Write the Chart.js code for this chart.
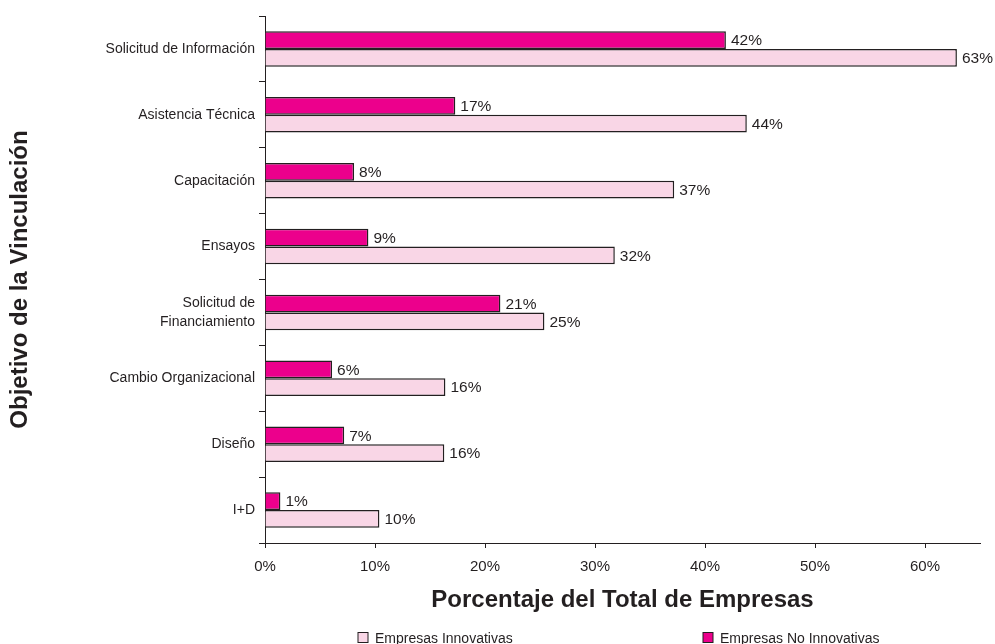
<!DOCTYPE html>
<html>
<head>
<meta charset="utf-8">
<title>Objetivo de la Vinculación</title>
<script src="https://cdn.jsdelivr.net/npm/chart.js@4.4.1/dist/chart.umd.min.js"></script>
<style>
  html, body { margin: 0; padding: 0; background: #fff; }
  #wrap { position: relative; width: 995px; height: 644px; }
</style>
</head>
<body>
<div id="wrap"><canvas id="chart" width="995" height="644"></canvas></div>
<script>
// datos del gráfico
const categorias = ['Solicitud de Información', 'Asistencia Técnica', 'Capacitación', 'Ensayos',
    ['Solicitud de', 'Financiamiento'], 'Cambio Organizacional', 'Diseño', 'I+D'];
const noInnovativas = [41.9, 17.3, 8.1, 9.4, 21.4, 6.1, 7.2, 1.4];
const innovativas = [62.9, 43.8, 37.2, 31.8, 25.4, 16.4, 16.3, 10.4];
const ticksX = [0, 10, 20, 30, 40, 50, 60];

const INK = '#231f20';
const MAGENTA = '#ec008c';
const ROSA = '#f9d6e6';
const FONT = '"Liberation Sans", Arial, sans-serif';

Chart.defaults.font.family = FONT;
Chart.defaults.color = INK;

// etiquetas de valor al final de cada barra
const valueLabels = {
    id: 'valueLabels',
    afterDatasetsDraw(chart) {
        const ctx = chart.ctx;
        ctx.save();
        ctx.font = '15.5px ' + FONT;
        ctx.fillStyle = INK;
        ctx.textAlign = 'left';
        ctx.textBaseline = 'middle';
        chart.data.datasets.forEach((ds, i) => {
            chart.getDatasetMeta(i).data.forEach((bar, j) => {
                ctx.fillText(Math.round(ds.data[j]) + '%', bar.x + 5, bar.y + 1);
            });
        });
        ctx.restore();
    }
};

// leyenda abajo, con el orden y la separación del original
const legendaAbajo = {
    id: 'legendaAbajo',
    afterDraw(chart) {
        const ctx = chart.ctx;
        const items = [
            { ds: chart.data.datasets[1], x: 358 },
            { ds: chart.data.datasets[0], x: 703 }
        ];
        ctx.save();
        ctx.font = '14px ' + FONT;
        ctx.textBaseline = 'alphabetic';
        ctx.textAlign = 'left';
        items.forEach(it => {
            ctx.fillStyle = it.ds.backgroundColor;
            ctx.fillRect(it.x, 632.5, 10, 10);
            ctx.strokeStyle = INK;
            ctx.lineWidth = 1;
            ctx.strokeRect(it.x, 632.5, 10, 10);
            ctx.fillStyle = INK;
            ctx.fillText(it.ds.label, it.x + 17, 643);
        });
        ctx.restore();
    }
};

new Chart(document.getElementById('chart'), {
    type: 'bar',
    data: {
        labels: categorias,
        datasets: [
            { label: 'Empresas No Innovativas', data: noInnovativas, backgroundColor: MAGENTA, borderColor: INK, borderWidth: 1.5 },
            { label: 'Empresas Innovativas', data: innovativas, backgroundColor: ROSA, borderColor: INK, borderWidth: 1.5 }
        ]
    },
    options: {
        indexAxis: 'y',
        responsive: false,
        animation: false,
        categoryPercentage: 0.54,
        barPercentage: 1,
        layout: { padding: { top: 16, right: 15, bottom: 29, left: 0 } },
        plugins: { legend: { display: false }, tooltip: { enabled: false } },
        scales: {
            x: {
                min: 0, max: 65,
                afterBuildTicks: s => { s.ticks = ticksX.map(v => ({ value: v })); },
                grid: { drawOnChartArea: false, tickLength: 5, color: INK },
                border: { color: INK, width: 1 },
                ticks: { font: { size: 15 }, color: INK, padding: 10, callback: v => v + '%' },
                title: { display: true, text: 'Porcentaje del Total de Empresas', color: INK,
                    font: { size: 24, weight: 'bold' }, padding: { top: 0, bottom: 0 } },
                afterFit: s => { s.height = 72; }
            },
            y: {
                grid: { drawOnChartArea: false, tickLength: 6, color: INK, offset: true },
                border: { color: INK, width: 1 },
                ticks: { font: { size: 14, lineHeight: 1.35 }, color: INK, padding: 4 },
                title: { display: true, text: 'Objetivo de la Vinculación', color: INK,
                    font: { size: 24, weight: 'bold' }, padding: { top: 6, bottom: 0 } },
                afterFit: s => { s.width = 265; }
            }
        }
    },
    plugins: [valueLabels, legendaAbajo]
});
</script>
</body>
</html>
